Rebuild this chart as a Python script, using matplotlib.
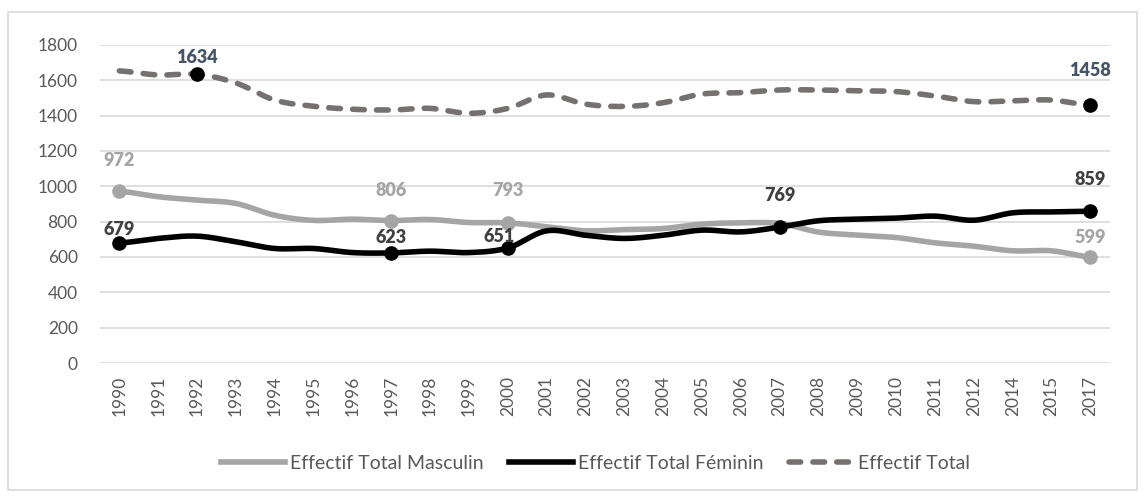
import matplotlib
matplotlib.use("Agg")
import matplotlib.pyplot as plt
import numpy as np
from matplotlib.lines import Line2D
from matplotlib.patches import Rectangle

plt.rcParams["font.family"] = ["Lato", "DejaVu Sans"]

annees = ["1990", "1991", "1992", "1993", "1994", "1995", "1996", "1997", "1998",
          "1999", "2000", "2001", "2002", "2003", "2004", "2005", "2006", "2007",
          "2008", "2009", "2010", "2011", "2012", "2014", "2015", "2017"]
masculin = [972, 941, 922, 903, 836, 807, 814, 806, 812, 795, 793, 771, 748, 755,
            761, 786, 793, 790, 741, 724, 710, 680, 661, 635, 635, 599]
feminin = [679, 705, 718, 686, 648, 648, 625, 623, 633, 625, 651, 748, 723, 705,
           723, 752, 742, 769, 805, 814, 820, 831, 808, 850, 855, 859]
total = [1653, 1630, 1634, 1585, 1488, 1453, 1436, 1432, 1441, 1413, 1441, 1517,
         1465, 1452, 1473, 1522, 1530, 1545, 1545, 1540, 1536, 1511, 1479, 1484,
         1488, 1458]

# points etiquetes : index -> (decalage x, decalage y) en points
lab_masc = {0: (0, 22), 7: (0, 22), 10: (0, 23), 25: (0, 14)}
lab_fem = {0: (0, 10), 7: (0, 11), 10: (-6, 8), 17: (0, 23), 25: (0, 23)}
lab_tot = {2: (0, 12), 25: (0, 25)}


def lisse(y, n=12):
    # courbe lissee facon Excel (Catmull-Rom)
    y = np.asarray(y, float)
    p = np.concatenate([[y[0]], y, [y[-1]]])
    xs, ys = [], []
    for i in range(len(y) - 1):
        t = np.linspace(0, 1, n, endpoint=False)
        p0, p1, p2, p3 = p[i], p[i + 1], p[i + 2], p[i + 3]
        v = 0.5 * (2 * p1 + (-p0 + p2) * t + (2 * p0 - 5 * p1 + 4 * p2 - p3) * t ** 2
                   + (-p0 + 3 * p1 - 3 * p2 + p3) * t ** 3)
        xs.extend(i + t)
        ys.extend(v)
    xs.append(len(y) - 1)
    ys.append(y[-1])
    return np.array(xs), np.array(ys)


fig = plt.figure(figsize=(11.45, 4.97), dpi=100)
fig.patches.append(Rectangle((0.007, 0.014), 0.986, 0.962, transform=fig.transFigure,
                             fill=False, edgecolor="#D9D9D9", linewidth=1.2))
ax = fig.add_axes([0.0873, 0.2696, 0.882, 0.640])

x = np.arange(len(annees))
c_m, c_f, c_t = "#A5A5A5", "#000000", "#767171"
lw = 4.0
tirets = (0, (2.1, 2.2))

xm, ym = lisse(masculin)
ax.plot(xm, ym, color=c_m, lw=lw, solid_capstyle="round", zorder=3)
xf, yf = lisse(feminin)
ax.plot(xf, yf, color=c_f, lw=lw, solid_capstyle="round", zorder=4)
xt, yt = lisse(total)
ax.plot(xt, yt, color=c_t, lw=lw, ls=tirets, dash_capstyle="round", zorder=3)


def etiquettes(serie, points, coul_pt, coul_txt, z):
    for i, (dx, dy) in points.items():
        ax.plot(x[i], serie[i], "o", color=coul_pt, ms=9.5, zorder=z)
        ax.annotate(str(serie[i]), (x[i], serie[i]), xytext=(dx, dy),
                    textcoords="offset points", ha="center", va="center",
                    fontsize=13, weight="heavy", color=coul_txt, zorder=7)


etiquettes(masculin, lab_masc, c_m, "#A5A5A5", 5)
etiquettes(feminin, lab_fem, c_f, "#404040", 6)
etiquettes(total, lab_tot, "#000000", "#44546A", 6)

ax.set_xlim(-0.5, len(annees) - 0.5)
ax.set_ylim(0, 1800)
ax.set_yticks(range(0, 1801, 200))
ax.set_xticks(x)
ax.set_xticklabels(annees, rotation=90)
ax.tick_params(axis="both", length=0, labelsize=12.5, colors="#595959")
ax.tick_params(axis="x", pad=9)
ax.tick_params(axis="y", pad=16)
ax.grid(axis="y", color="#D9D9D9", lw=1.2)
ax.set_axisbelow(True)
for s in ax.spines.values():
    s.set_visible(False)

handles = [Line2D([], [], color=c_m, lw=lw),
           Line2D([], [], color=c_f, lw=lw),
           Line2D([], [], color=c_t, lw=lw, ls=tirets, dash_capstyle="round")]
fig.legend(handles, ["Effectif Total Masculin", "Effectif Total Féminin", "Effectif Total"],
           loc="center", bbox_to_anchor=(0.52, 0.068), ncol=3, frameon=False,
           fontsize=14, labelcolor="#595959", handlelength=3.3, handletextpad=0.25,
           columnspacing=1.3)

fig.savefig("out.png", dpi=100)
